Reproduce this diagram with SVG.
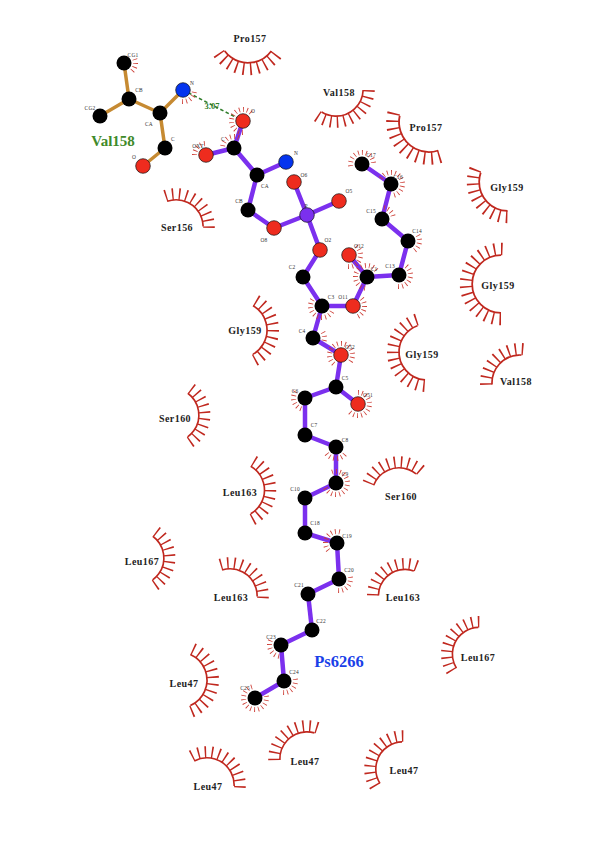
<svg xmlns="http://www.w3.org/2000/svg" xmlns:xlink="http://www.w3.org/1999/xlink" width="604" height="850" viewBox="0 0 604 850">
<style>
text{font-family:"Liberation Serif","Times New Roman",serif;text-anchor:middle}
.res{font-size:10px;font-weight:bold;fill:#222;letter-spacing:.45px}
.at{font-size:5.4px;fill:#333;letter-spacing:.2px}
.arc,.spk,.hair{fill:none;stroke:#c0281f}
.arc{stroke-width:1.7}
.spk{stroke-width:12}
.hair{stroke-width:5;stroke:#cc3a32}
.pb{stroke:#7b30ee;stroke-width:4.5;stroke-linecap:round}
.bb{stroke:#c68a32;stroke-width:3.5;stroke-linecap:round}
.hb{stroke:#2f7d2a;stroke-width:1.6;stroke-dasharray:3.5 2.5}
.k{fill:#000}
.r{fill:#ee2c1e;stroke:#111;stroke-width:.7}
.b{fill:#0434ee;stroke:#111;stroke-width:.7}
.p{fill:#7b30ee;stroke:#111;stroke-width:.7}
.a9{stroke-dasharray:96 360}.a10{stroke-dasharray:108 360}.a11{stroke-dasharray:120 360}.a12{stroke-dasharray:132 360}.a14{stroke-dasharray:156 360}.a16{stroke-dasharray:180 360}
.s9{stroke-dasharray:2.6 9.4 2.6 9.4 2.6 9.4 2.6 9.4 2.6 9.4 2.6 9.4 2.6 9.4 2.6 9.4 2.6 360}
.s10{stroke-dasharray:2.6 9.4 2.6 9.4 2.6 9.4 2.6 9.4 2.6 9.4 2.6 9.4 2.6 9.4 2.6 9.4 2.6 9.4 2.6 360}
.s11{stroke-dasharray:2.6 9.4 2.6 9.4 2.6 9.4 2.6 9.4 2.6 9.4 2.6 9.4 2.6 9.4 2.6 9.4 2.6 9.4 2.6 9.4 2.6 360}
.s12{stroke-dasharray:2.6 9.4 2.6 9.4 2.6 9.4 2.6 9.4 2.6 9.4 2.6 9.4 2.6 9.4 2.6 9.4 2.6 9.4 2.6 9.4 2.6 9.4 2.6 360}
.s14{stroke-dasharray:2.6 9.4 2.6 9.4 2.6 9.4 2.6 9.4 2.6 9.4 2.6 9.4 2.6 9.4 2.6 9.4 2.6 9.4 2.6 9.4 2.6 9.4 2.6 9.4 2.6 9.4 2.6 360}
.s16{stroke-dasharray:2.6 9.4 2.6 9.4 2.6 9.4 2.6 9.4 2.6 9.4 2.6 9.4 2.6 9.4 2.6 9.4 2.6 9.4 2.6 9.4 2.6 9.4 2.6 9.4 2.6 9.4 2.6 9.4 2.6 9.4 2.6 360}
.k3{stroke-dasharray:4 16 4 16 4 360}
.k4{stroke-dasharray:4 16 4 16 4 16 4 360}
.k5{stroke-dasharray:4 16 4 16 4 16 4 16 4 360}
.k6{stroke-dasharray:4 16 4 16 4 16 4 16 4 16 4 360}
.k8{stroke-dasharray:4 16 4 16 4 16 4 16 4 16 4 16 4 16 4 360}
.k10{stroke-dasharray:4 16 4 16 4 16 4 16 4 16 4 16 4 16 4 16 4 16 4 360}
.k12{stroke-dasharray:4 16 4 16 4 16 4 16 4 16 4 16 4 16 4 16 4 16 4 16 4 16 4 360}
.k14{stroke-dasharray:4 16 4 16 4 16 4 16 4 16 4 16 4 16 4 16 4 16 4 16 4 16 4 16 4 16 4 360}
</style>
<defs>
<g id="h9" transform="rotate(-48)"><circle class="arc a9" r="28" pathLength="360"/><circle class="spk s9" r="34" pathLength="360"/></g>
<g id="h10" transform="rotate(-54)"><circle class="arc a10" r="28" pathLength="360"/><circle class="spk s10" r="34" pathLength="360"/></g>
<g id="h11" transform="rotate(-60)"><circle class="arc a11" r="28" pathLength="360"/><circle class="spk s11" r="34" pathLength="360"/></g>
<g id="h12" transform="rotate(-66)"><circle class="arc a12" r="28" pathLength="360"/><circle class="spk s12" r="34" pathLength="360"/></g>
<g id="h14" transform="rotate(-78)"><circle class="arc a14" r="28" pathLength="360"/><circle class="spk s14" r="34" pathLength="360"/></g>
<g id="h16" transform="rotate(-90)"><circle class="arc a16" r="28" pathLength="360"/><circle class="spk s16" r="34" pathLength="360"/></g>
</defs>
<rect width="604" height="850" fill="#fff"/>
<g id="residues">
<g id="res-pro157-a"><use href="#h10" xlink:href="#h10" transform="translate(248 34) rotate(90) scale(1.03)"/><text class="res" x="250" y="42.3">Pro157</text></g>
<g id="res-val158-a"><use href="#h11" xlink:href="#h11" transform="translate(336 89) rotate(62) scale(.97)"/><text class="res" x="339" y="96.3">Val158</text></g>
<g id="res-pro157-b"><use href="#h11" xlink:href="#h11" transform="translate(429 122) rotate(132) scale(1.07)"/><text class="res" x="426" y="131.3">Pro157</text></g>
<g id="res-gly159-a"><use href="#h10" xlink:href="#h10" transform="translate(508 182) rotate(145) scale(1.03)"/><text class="res" x="507" y="191">Gly159</text></g>
<g id="res-gly159-b"><use href="#h16" xlink:href="#h16" transform="translate(501 284) rotate(180) scale(1.03)"/><text class="res" x="498" y="289">Gly159</text></g>
<g id="res-gly159-c"><use href="#h14" xlink:href="#h14" transform="translate(427 352) rotate(172)"/><text class="res" x="422" y="358">Gly159</text></g>
<g id="res-val158-b"><use href="#h9" xlink:href="#h9" transform="translate(520 383) rotate(225)"/><text class="res" x="516" y="385">Val158</text></g>
<g id="res-ser156"><use href="#h10" xlink:href="#h10" transform="translate(176 227) rotate(305) scale(.97)"/><text class="res" x="177" y="231">Ser156</text></g>
<g id="res-gly159-d"><use href="#h11" xlink:href="#h11" transform="translate(239 330)"/><text class="res" x="245" y="334">Gly159</text></g>
<g id="res-ser160-a"><use href="#h10" xlink:href="#h10" transform="translate(172 415) scale(.96)"/><text class="res" x="175" y="421.5">Ser160</text></g>
<g id="res-leu163-a"><use href="#h11" xlink:href="#h11" transform="translate(237 490) scale(.98)"/><text class="res" x="240" y="496">Leu163</text></g>
<g id="res-leu167-a"><use href="#h10" xlink:href="#h10" transform="translate(137 558) scale(.96)"/><text class="res" x="142" y="565">Leu167</text></g>
<g id="res-leu163-b"><use href="#h10" xlink:href="#h10" transform="translate(230 596) rotate(307) scale(.97)"/><text class="res" x="231" y="601">Leu163</text></g>
<g id="res-ser160-b"><use href="#h10" xlink:href="#h10" transform="translate(399 495) rotate(255) scale(.97)"/><text class="res" x="401" y="500">Ser160</text></g>
<g id="res-leu163-c"><use href="#h10" xlink:href="#h10" transform="translate(405 596) rotate(235) scale(.95)"/><text class="res" x="403" y="601">Leu163</text></g>
<g id="res-leu167-b"><use href="#h11" xlink:href="#h11" transform="translate(479 654) rotate(208) scale(.95)"/><text class="res" x="478" y="661">Leu167</text></g>
<g id="res-leu47-a"><use href="#h12" xlink:href="#h12" transform="translate(179 680)"/><text class="res" x="184" y="686.5">Leu47</text></g>
<g id="res-leu47-b"><use href="#h11" xlink:href="#h11" transform="translate(207 785) rotate(302) scale(.97)"/><text class="res" x="208" y="790">Leu47</text></g>
<g id="res-leu47-c"><use href="#h10" xlink:href="#h10" transform="translate(307 759) rotate(232) scale(.97)"/><text class="res" x="305" y="764.5">Leu47</text></g>
<g id="res-leu47-d"><use href="#h11" xlink:href="#h11" transform="translate(403 769) rotate(208) scale(.97)"/><text class="res" x="404" y="773.5">Leu47</text></g>
</g>
<g id="connectors">
<line class="bb" x1="124" y1="63" x2="129" y2="99"/><line class="bb" x1="129" y1="99" x2="100" y2="116"/><line class="bb" x1="129" y1="99" x2="160" y2="113"/><line class="bb" x1="160" y1="113" x2="183" y2="90"/><line class="bb" x1="160" y1="113" x2="165" y2="148"/><line class="bb" x1="165" y1="148" x2="143" y2="166"/>
<line class="pb" x1="243" y1="121" x2="234" y2="148"/><line class="pb" x1="234" y1="148" x2="206" y2="155"/><line class="pb" x1="234" y1="148" x2="257" y2="175"/><line class="pb" x1="257" y1="175" x2="286" y2="162"/><line class="pb" x1="257" y1="175" x2="248" y2="210"/><line class="pb" x1="248" y1="210" x2="274" y2="228"/><line class="pb" x1="274" y1="228" x2="307" y2="215"/><line class="pb" x1="307" y1="215" x2="294" y2="182"/><line class="pb" x1="307" y1="215" x2="339" y2="201"/><line class="pb" x1="307" y1="215" x2="320" y2="250"/><line class="pb" x1="320" y1="250" x2="303" y2="277"/><line class="pb" x1="303" y1="277" x2="322" y2="306"/><line class="pb" x1="322" y1="306" x2="353" y2="306"/><line class="pb" x1="353" y1="306" x2="367" y2="277"/><line class="pb" x1="367" y1="277" x2="349" y2="255"/><line class="pb" x1="367" y1="277" x2="399" y2="275"/><line class="pb" x1="399" y1="275" x2="408" y2="241"/><line class="pb" x1="408" y1="241" x2="382" y2="219"/><line class="pb" x1="382" y1="219" x2="391" y2="184"/><line class="pb" x1="391" y1="184" x2="362" y2="164"/><line class="pb" x1="322" y1="306" x2="313" y2="338"/><line class="pb" x1="313" y1="338" x2="341" y2="355"/><line class="pb" x1="341" y1="355" x2="336" y2="387"/><line class="pb" x1="336" y1="387" x2="358" y2="404"/><line class="pb" x1="336" y1="387" x2="305" y2="398"/><line class="pb" x1="305" y1="398" x2="305" y2="435"/><line class="pb" x1="305" y1="435" x2="336" y2="447"/><line class="pb" x1="336" y1="447" x2="336" y2="483"/><line class="pb" x1="336" y1="483" x2="305" y2="498"/><line class="pb" x1="305" y1="498" x2="305" y2="533"/><line class="pb" x1="305" y1="533" x2="337" y2="543"/><line class="pb" x1="337" y1="543" x2="339" y2="579"/><line class="pb" x1="339" y1="579" x2="308" y2="594"/><line class="pb" x1="308" y1="594" x2="312" y2="630"/><line class="pb" x1="312" y1="630" x2="281" y2="645"/><line class="pb" x1="281" y1="645" x2="284" y2="681"/><line class="pb" x1="284" y1="681" x2="255" y2="698"/>
<line class="hb" x1="183" y1="90" x2="243" y2="121"/>
</g>
<g id="atoms">
<g id="v-cg1"><circle class="hair k4" r="11.5" pathLength="360" transform="translate(124 63) rotate(-20)"/><circle class="k" cx="124" cy="63" r="7.5"/><text class="at" x="133" y="57">CG1</text></g>
<g id="v-cb"><circle class="k" cx="129" cy="99" r="7.5"/><text class="at" x="139" y="92">CB</text></g>
<g id="v-cg2"><circle class="k" cx="100" cy="116" r="7.5"/><text class="at" x="90" y="110">CG2</text></g>
<g id="v-ca"><circle class="k" cx="160" cy="113" r="7.5"/><text class="at" x="149" y="126">CA</text></g>
<g id="v-n"><circle class="hair k5" r="11.5" pathLength="360" transform="translate(183 90) rotate(10)"/><circle class="b" cx="183" cy="90" r="7.3"/><text class="at" x="192" y="85">N</text></g>
<g id="v-c"><circle class="k" cx="165" cy="148" r="7.5"/><text class="at" x="173" y="141">C</text></g>
<g id="v-o"><circle class="r" cx="143" cy="166" r="7.3"/><text class="at" x="134" y="159">O</text></g>
<g id="l-o"><circle class="hair k12" r="11.5" pathLength="360" transform="translate(243 121) rotate(90)"/><circle class="r" cx="243" cy="121" r="7.3"/><text class="at" x="253" y="113">O</text></g>
<g id="l-c"><circle class="hair k6" r="11.5" pathLength="360" transform="translate(234 148) rotate(190)"/><circle class="k" cx="234" cy="148" r="7.5"/><text class="at" x="223" y="141">C</text></g>
<g id="l-oxt"><circle class="hair k5" r="11.5" pathLength="360" transform="translate(206 155) rotate(180)"/><circle class="r" cx="206" cy="155" r="7.3"/><text class="at" x="198" y="148">OXT</text></g>
<g id="l-ca"><circle class="k" cx="257" cy="175" r="7.5"/><text class="at" x="265" y="188">CA</text></g>
<g id="l-n"><circle class="b" cx="286" cy="162" r="7.3"/><text class="at" x="296" y="155">N</text></g>
<g id="l-cb"><circle class="k" cx="248" cy="210" r="7.5"/><text class="at" x="239" y="203">CB</text></g>
<g id="l-o8"><circle class="r" cx="274" cy="228" r="7.3"/><text class="at" x="264" y="242">O8</text></g>
<g id="l-p"><circle class="p" cx="307" cy="215" r="7.3"/><text class="at" x="306" y="208">P</text></g>
<g id="l-o6"><circle class="r" cx="294" cy="182" r="7.3"/><text class="at" x="304" y="177">O6</text></g>
<g id="l-o5"><circle class="r" cx="339" cy="201" r="7.3"/><text class="at" x="349" y="193">O5</text></g>
<g id="l-o2"><circle class="r" cx="320" cy="250" r="7.3"/><text class="at" x="328" y="242">O2</text></g>
<g id="l-c2"><circle class="k" cx="303" cy="277" r="7.5"/><text class="at" x="292" y="269">C2</text></g>
<g id="l-c3"><circle class="hair k10" r="11.5" pathLength="360" transform="translate(322 306) rotate(30)"/><circle class="k" cx="322" cy="306" r="7.5"/><text class="at" x="331" y="299">C3</text></g>
<g id="l-o11"><circle class="hair k6" r="11.5" pathLength="360" transform="translate(353 306) rotate(-40)"/><circle class="r" cx="353" cy="306" r="7.3"/><text class="at" x="343" y="299">O11</text></g>
<g id="l-c1"><circle class="hair k12" r="11.5" pathLength="360" transform="translate(367 277) rotate(100)"/><circle class="k" cx="367" cy="277" r="7.5"/><text class="at" x="374" y="271">C1</text></g>
<g id="l-o12"><circle class="hair k8" r="11.5" pathLength="360" transform="translate(349 255) rotate(-50)"/><circle class="r" cx="349" cy="255" r="7.3"/><text class="at" x="359" y="248">O12</text></g>
<g id="l-c13"><circle class="hair k8" r="11.5" pathLength="360" transform="translate(399 275) rotate(-50)"/><circle class="k" cx="399" cy="275" r="7.5"/><text class="at" x="390" y="268">C13</text></g>
<g id="l-c14"><circle class="hair k5" r="11.5" pathLength="360" transform="translate(408 241) rotate(-30)"/><circle class="k" cx="408" cy="241" r="7.5"/><text class="at" x="417" y="233">C14</text></g>
<g id="l-c15"><circle class="hair k4" r="11.5" pathLength="360" transform="translate(382 219) rotate(280)"/><circle class="k" cx="382" cy="219" r="7.5"/><text class="at" x="371" y="213">C15</text></g>
<g id="l-c16"><circle class="hair k12" r="11.5" pathLength="360" transform="translate(391 184) rotate(210)"/><circle class="k" cx="391" cy="184" r="7.5"/><text class="at" x="398" y="179">C16</text></g>
<g id="l-c17"><circle class="hair k10" r="11.5" pathLength="360" transform="translate(362 164) rotate(170)"/><circle class="k" cx="362" cy="164" r="7.5"/><text class="at" x="371" y="157">C17</text></g>
<g id="l-c4"><circle class="hair k3" r="11.5" pathLength="360" transform="translate(313 338) rotate(-30)"/><circle class="k" cx="313" cy="338" r="7.5"/><text class="at" x="302" y="333">C4</text></g>
<g id="l-o52"><circle class="hair k14" r="11.5" pathLength="360" transform="translate(341 355) rotate(130)"/><circle class="r" cx="341" cy="355" r="7.3"/><text class="at" x="350" y="349">O52</text></g>
<g id="l-c5"><circle class="k" cx="336" cy="387" r="7.5"/><text class="at" x="345" y="380">C5</text></g>
<g id="l-o51"><circle class="hair k12" r="11.5" pathLength="360" transform="translate(358 404) rotate(-90)"/><circle class="r" cx="358" cy="404" r="7.3"/><text class="at" x="368" y="397">O51</text></g>
<g id="l-c6"><circle class="hair k6" r="11.5" pathLength="360" transform="translate(305 398) rotate(110)"/><circle class="k" cx="305" cy="398" r="7.5"/><text class="at" x="295" y="393">C6</text></g>
<g id="l-c7"><circle class="k" cx="305" cy="435" r="7.5"/><text class="at" x="314" y="427">C7</text></g>
<g id="l-c8"><circle class="hair k6" r="11.5" pathLength="360" transform="translate(336 447) rotate(40)"/><circle class="k" cx="336" cy="447" r="7.5"/><text class="at" x="345" y="442">C8</text></g>
<g id="l-c9"><circle class="hair k14" r="11.5" pathLength="360" transform="translate(336 483) rotate(250)"/><circle class="k" cx="336" cy="483" r="7.5"/><text class="at" x="345" y="476">C9</text></g>
<g id="l-c10"><circle class="k" cx="305" cy="498" r="7.5"/><text class="at" x="295" y="491">C10</text></g>
<g id="l-c18"><circle class="k" cx="305" cy="533" r="7.5"/><text class="at" x="315" y="525">C18</text></g>
<g id="l-c19"><circle class="hair k8" r="11.5" pathLength="360" transform="translate(337 543) rotate(140)"/><circle class="k" cx="337" cy="543" r="7.5"/><text class="at" x="347" y="538">C19</text></g>
<g id="l-c20"><circle class="hair k6" r="11.5" pathLength="360" transform="translate(339 579) rotate(-10)"/><circle class="k" cx="339" cy="579" r="7.5"/><text class="at" x="349" y="572">C20</text></g>
<g id="l-c21"><circle class="k" cx="308" cy="594" r="7.5"/><text class="at" x="299" y="587">C21</text></g>
<g id="l-c22"><circle class="k" cx="312" cy="630" r="7.5"/><text class="at" x="321" y="623">C22</text></g>
<g id="l-c23"><circle class="hair k6" r="11.5" pathLength="360" transform="translate(281 645) rotate(100)"/><circle class="k" cx="281" cy="645" r="7.5"/><text class="at" x="271" y="639">C23</text></g>
<g id="l-c24"><circle class="hair k6" r="11.5" pathLength="360" transform="translate(284 681) rotate(-10)"/><circle class="k" cx="284" cy="681" r="7.5"/><text class="at" x="294" y="674">C24</text></g>
<g id="l-c25"><circle class="hair k14" r="11.5" pathLength="360" transform="translate(255 698) rotate(-10)"/><circle class="k" cx="255" cy="698" r="7.5"/><text class="at" x="245" y="690">C25</text></g>
</g>
<text x="113" y="146" font-size="15" font-weight="bold" fill="#3f8a2a">Val158</text>
<text x="339" y="667" font-size="16.5" font-weight="bold" fill="#1a3fe8">Ps6266</text>
<text x="212" y="109" font-size="8.5" font-weight="bold" fill="#2f7d2a">3.07</text>
</svg>
